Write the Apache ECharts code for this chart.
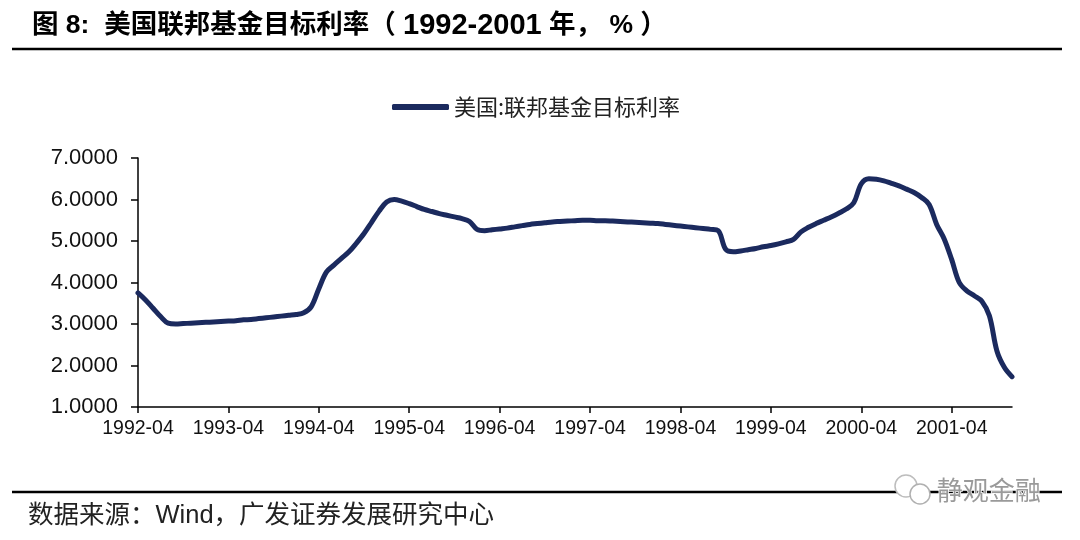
<!DOCTYPE html>
<html>
<head>
<meta charset="utf-8">
<script src="https://cdn.jsdelivr.net/npm/echarts@6/dist/echarts.min.js"></script>
<style>
html,body{margin:0;padding:0;background:#fff;}
#chart{width:1080px;height:540px;}
</style>
</head>
<body>
<div id="chart"></div>
<script>
// ---- data ----
const startYear = 1992, startMonth = 4, monthCount = 117; // 1992-04 .. 2001-12
const categories = [];
for (let i = 0; i < monthCount; i++) {
  const m = startMonth - 1 + i;
  const y = startYear + Math.floor(m / 12);
  const mm = (m % 12) + 1;
  categories.push(y + '-' + (mm < 10 ? '0' + mm : '' + mm));
}
const seriesName = '美国:联邦基金目标利率';
const fedTargetRate = [
  3.75, 3.58, 3.38, 3.18, 3.02, 3.00, 3.01, 3.02, 3.03, 3.04,
  3.05, 3.06, 3.07, 3.08, 3.10, 3.11, 3.13, 3.15, 3.17, 3.19,
  3.21, 3.23, 3.27, 3.42, 3.85, 4.25, 4.42, 4.58, 4.74, 4.95,
  5.18, 5.45, 5.72, 5.94, 6.00, 5.96, 5.90, 5.83, 5.76, 5.71,
  5.66, 5.62, 5.58, 5.54, 5.47, 5.28, 5.25, 5.27, 5.29, 5.31,
  5.34, 5.37, 5.40, 5.42, 5.44, 5.46, 5.47, 5.48, 5.49, 5.50,
  5.50, 5.49, 5.49, 5.48, 5.47, 5.46, 5.45, 5.44, 5.43, 5.42,
  5.40, 5.38, 5.36, 5.34, 5.32, 5.30, 5.28, 5.25, 4.80, 4.74,
  4.76, 4.79, 4.82, 4.86, 4.89, 4.93, 4.98, 5.04, 5.22, 5.33,
  5.42, 5.50, 5.58, 5.67, 5.77, 5.92, 6.38, 6.50, 6.49, 6.45,
  6.39, 6.33, 6.25, 6.17, 6.05, 5.88, 5.40, 5.05, 4.55, 4.00,
  3.80, 3.68, 3.55, 3.20, 2.35, 1.95, 1.73
];
const yMin = 1, yMax = 7, yInterval = 1;
const titleParts = ['图 8:  美国联邦基金目标利率（ ', '1992-2001', ' 年， % ）'];
const sourceText = '数据来源：Wind，广发证券发展研究中心';
const watermarkText = '静观金融';

// ---- chart ----
const chart = echarts.init(document.getElementById('chart'), null, {renderer: 'canvas'});
const lineColor = '#1b2a5e';
const sansFont = '"Liberation Sans", Arial, "Noto Sans CJK SC", sans-serif';
const option = {
  backgroundColor: '#ffffff',
  animation: false,
  grid: {left: 138, right: 68, top: 158, bottom: 133, containLabel: false},
  legend: {
    data: [seriesName],
    left: 387, top: 91,
    icon: 'roundRect',
    itemWidth: 57, itemHeight: 6, itemGap: 8,
    textStyle: {fontFamily: '"Noto Sans CJK SC", sans-serif', fontSize: 22, color: '#222'}
  },
  xAxis: {
    type: 'category',
    data: categories,
    boundaryGap: false,
    axisLine: {lineStyle: {color: '#000', width: 1.5}},
    axisTick: {interval: 11, length: 6, lineStyle: {color: '#000', width: 1.5}},
    axisLabel: {interval: 11, margin: 12, fontSize: 19.5, color: '#111', fontFamily: sansFont},
    splitLine: {show: false}
  },
  yAxis: {
    type: 'value',
    min: yMin, max: yMax, interval: yInterval,
    axisLine: {show: true, lineStyle: {color: '#000', width: 1.5}},
    axisTick: {show: true, length: 7, lineStyle: {color: '#000', width: 1.5}},
    axisLabel: {margin: 20, fontSize: 22, color: '#111', fontFamily: sansFont,
      formatter: v => v.toFixed(4)},
    splitLine: {show: false}
  },
  series: [{
    name: seriesName,
    type: 'line',
    data: fedTargetRate,
    smooth: 0.35,
    showSymbol: false,
    lineStyle: {color: lineColor, width: 5, cap: 'round', join: 'round'},
    itemStyle: {color: lineColor}
  }],
  graphic: [
    {type: 'text', left: 32, top: 11,
      style: {
        text: '{a|' + titleParts[0] + '}{b|' + titleParts[1] + '}{a|' + titleParts[2] + '}',
        rich: {
          a: {fontSize: 26.5, fontWeight: 'bold', color: '#111', fontFamily: sansFont},
          b: {fontSize: 29, fontWeight: 'bold', color: '#111', fontFamily: sansFont}
        }
      }},
    {type: 'line', shape: {x1: 12, y1: 49, x2: 1062, y2: 49},
      style: {stroke: '#000', lineWidth: 2.5}},
    {type: 'line', shape: {x1: 12, y1: 492, x2: 1062, y2: 492},
      style: {stroke: '#000', lineWidth: 2.5}},
    {type: 'text', left: 28, top: 503,
      style: {text: sourceText, fontSize: 25.5, fill: '#222',
        fontFamily: sansFont}},
    {type: 'circle', shape: {cx: 906, cy: 486, r: 11},
      style: {fill: '#ffffff', stroke: '#bdbdbd', lineWidth: 1.5}},
    {type: 'circle', shape: {cx: 920, cy: 494, r: 10},
      style: {fill: '#ffffff', stroke: '#b0b0b0', lineWidth: 1.5}},
    {type: 'text', left: 936, top: 476,
      style: {text: watermarkText, fontSize: 26, fill: '#9a9a9a',
        fontFamily: '"Noto Sans CJK SC", sans-serif', stroke: '#ffffff', lineWidth: 1.5}}
  ]
};
chart.setOption(option);
</script>
</body>
</html>
